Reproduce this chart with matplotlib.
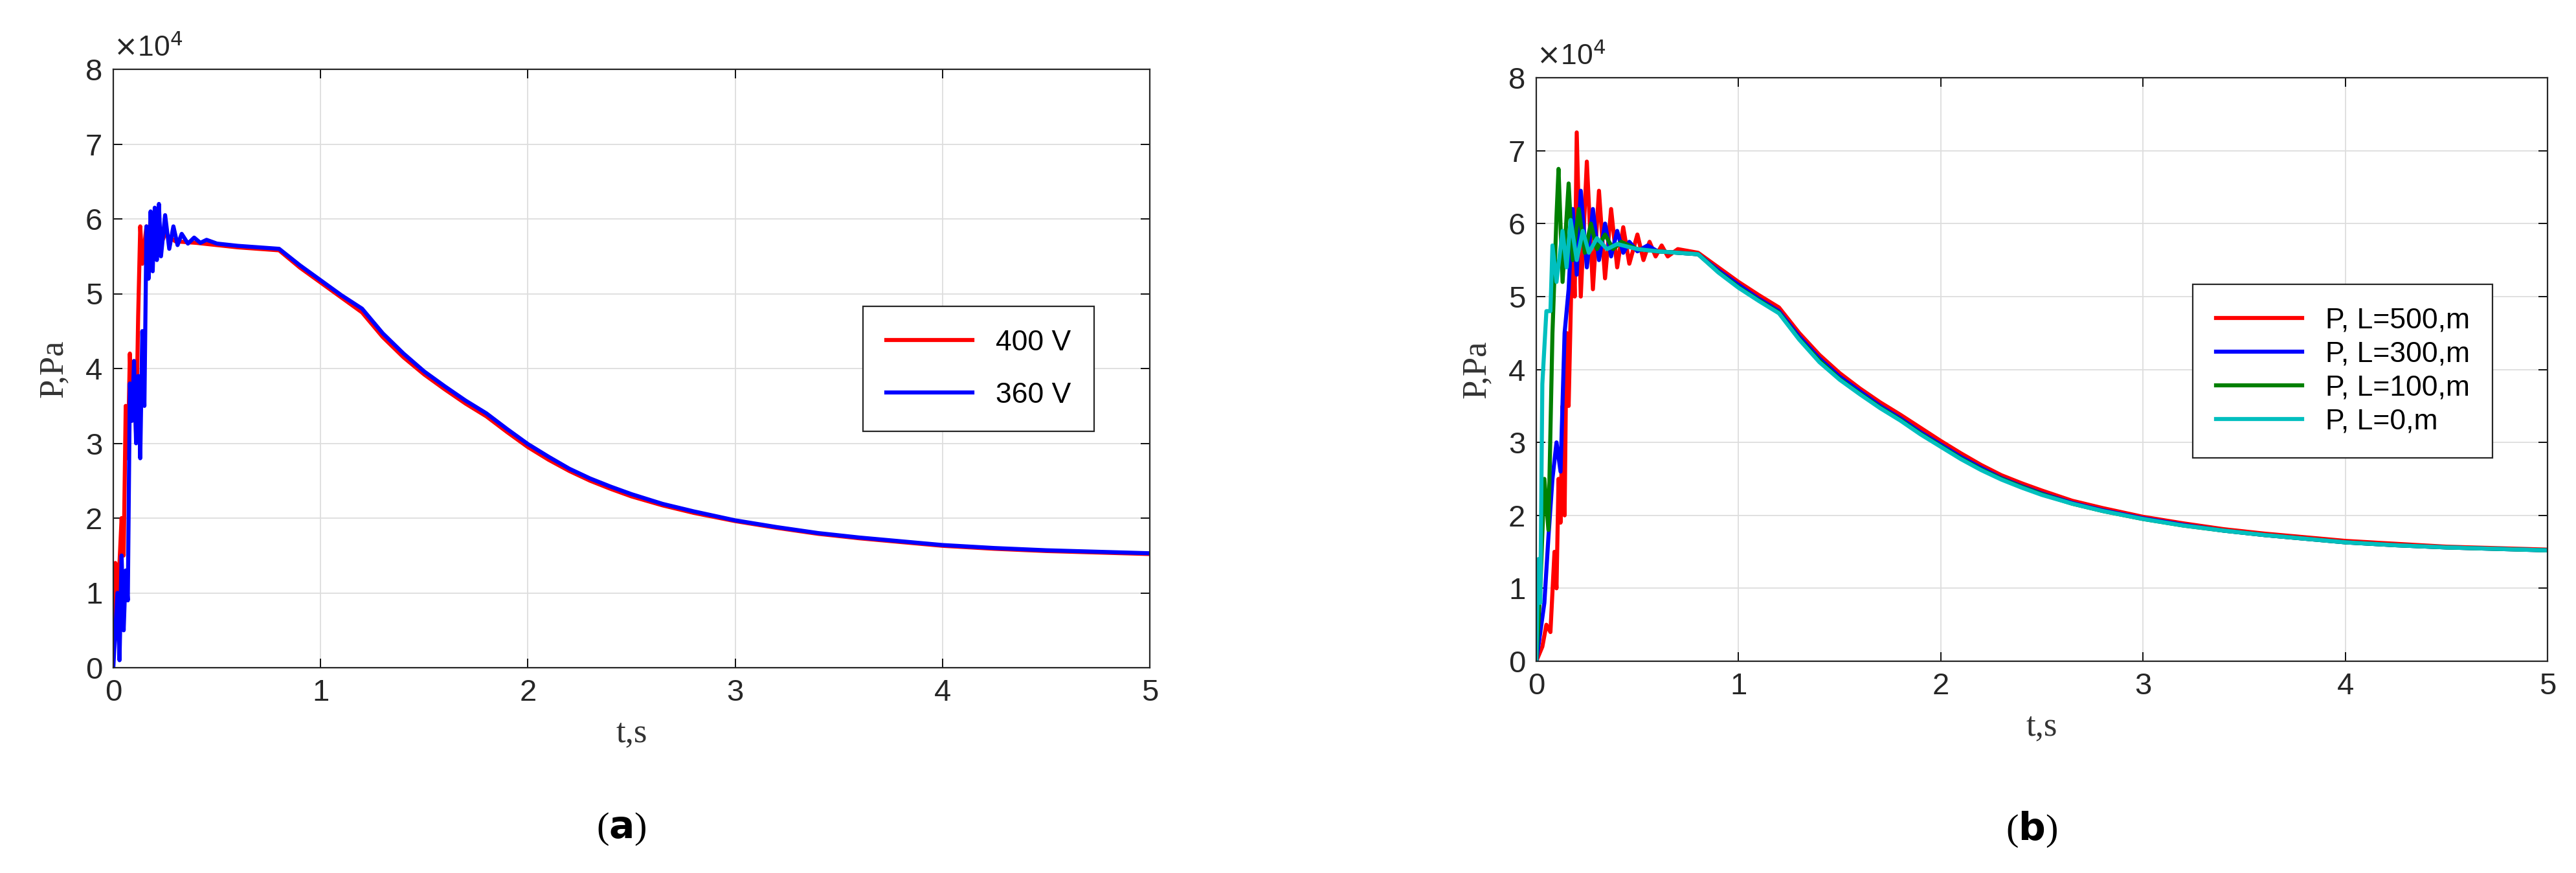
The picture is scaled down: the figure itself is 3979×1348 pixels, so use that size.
import matplotlib
matplotlib.use("Agg")
import matplotlib.pyplot as plt

# pressure in units of 1e4 Pa, time in s
tail_t = [0.8, 0.9, 1.0, 1.1, 1.2, 1.3, 1.4, 1.5, 1.6, 1.7, 1.8, 1.9, 2.0, 2.1, 2.2, 2.3, 2.4, 2.5, 2.65, 2.8,
          3.0, 3.2, 3.4, 3.6, 3.8, 4.0, 4.25, 4.5, 4.75, 5.0]

# panel (a)
t_a_400 = [0, 0.01, 0.02, 0.04, 0.05, 0.06, 0.07, 0.08, 0.09, 0.1, 0.11, 0.12, 0.13, 0.14, 0.16, 0.18, 0.2, 0.22,
           0.25, 0.3, 0.4, 0.5, 0.6] + tail_t
p_a_400 = [0.5, 1.4, 0.8, 2.0, 1.5, 3.5, 2.8, 4.2, 3.4, 4.1, 3.1, 4.7, 5.9, 5.4, 5.9, 5.6, 6.0, 5.6,
           5.8, 5.7, 5.68, 5.65, 5.62,
           5.58, 5.35, 5.15, 4.95, 4.75, 4.42, 4.15, 3.92, 3.72, 3.53, 3.36, 3.15, 2.95, 2.78, 2.63, 2.5, 2.39,
           2.29, 2.17, 2.07, 1.96, 1.87, 1.79, 1.73, 1.68, 1.63, 1.59, 1.56, 1.54, 1.52]
t_a_360 = [0, 0.02, 0.03, 0.04, 0.05, 0.06, 0.07, 0.08, 0.09, 0.1, 0.11, 0.12, 0.13, 0.14, 0.15, 0.16, 0.17, 0.18,
           0.19, 0.2, 0.21, 0.22, 0.23, 0.25, 0.27, 0.29, 0.31, 0.33, 0.36, 0.39, 0.42, 0.45, 0.5, 0.6] + tail_t
p_a_360 = [0, 1.0, 0.1, 1.5, 0.5, 1.3, 0.9, 3.8, 3.3, 4.1, 3.0, 3.9, 2.8, 4.5, 3.5, 5.9, 5.2, 6.1,
           5.3, 6.15, 5.45, 6.2, 5.5, 6.05, 5.6, 5.9, 5.65, 5.8, 5.67, 5.75, 5.68, 5.72, 5.67, 5.64,
           5.6, 5.38, 5.18, 4.98, 4.8, 4.47, 4.2, 3.96, 3.76, 3.57, 3.4, 3.19, 2.99, 2.82, 2.66, 2.53, 2.42,
           2.32, 2.19, 2.09, 1.97, 1.88, 1.8, 1.74, 1.69, 1.64, 1.6, 1.57, 1.55, 1.53]

# panel (b)
t_b_500 = [0, 0.03, 0.05, 0.07, 0.09, 0.1, 0.11, 0.12, 0.13, 0.14, 0.15, 0.16, 0.18, 0.19, 0.2, 0.22, 0.25, 0.28,
           0.31, 0.34, 0.37, 0.4, 0.43, 0.46, 0.5, 0.53, 0.56, 0.59, 0.62, 0.65, 0.7] + tail_t
p_b_500 = [0, 0.2, 0.5, 0.4, 1.5, 1.0, 2.5, 1.9, 3.5, 2.0, 4.5, 3.5, 6.0, 5.0, 7.25, 5.0, 6.85, 5.1,
           6.45, 5.25, 6.2, 5.4, 5.95, 5.45, 5.85, 5.5, 5.75, 5.55, 5.7, 5.55, 5.65,
           5.6, 5.4, 5.2, 5.02, 4.85, 4.5, 4.2, 3.95, 3.74, 3.55, 3.38, 3.2, 3.02, 2.85, 2.69, 2.55, 2.44,
           2.34, 2.2, 2.1, 1.98, 1.89, 1.81, 1.75, 1.7, 1.65, 1.61, 1.57, 1.55, 1.53]
t_b_300 = [0, 0.04, 0.06, 0.08, 0.1, 0.12, 0.14, 0.16, 0.18, 0.2, 0.22, 0.25, 0.28, 0.31, 0.34, 0.37, 0.4, 0.43,
           0.46, 0.5, 0.55, 0.6] + tail_t
p_b_300 = [0, 0.8, 1.7, 2.5, 3.0, 2.6, 4.5, 5.1, 6.2, 5.3, 6.45, 5.4, 6.2, 5.5, 6.0, 5.55, 5.9, 5.6,
           5.75, 5.62, 5.7, 5.62,
           5.58, 5.36, 5.16, 4.97, 4.8, 4.45, 4.15, 3.9, 3.7, 3.5, 3.33, 3.14, 2.97, 2.8, 2.65, 2.51, 2.4,
           2.3, 2.17, 2.07, 1.96, 1.87, 1.79, 1.73, 1.68, 1.63, 1.59, 1.56, 1.54, 1.52]
t_b_100 = [0, 0.02, 0.04, 0.06, 0.08, 0.1, 0.11, 0.13, 0.16, 0.18, 0.21, 0.24, 0.27, 0.3, 0.34, 0.38, 0.42,
           0.5, 0.6] + tail_t
p_b_100 = [0, 1.0, 2.5, 1.8, 4.5, 6.1, 6.75, 5.2, 6.55, 5.5, 6.2, 5.6, 6.0, 5.65, 5.85, 5.65, 5.75, 5.65, 5.62,
           5.58, 5.34, 5.13, 4.95, 4.78, 4.42, 4.12, 3.87, 3.67, 3.48, 3.31, 3.12, 2.95, 2.78, 2.63, 2.5, 2.39,
           2.29, 2.16, 2.06, 1.95, 1.86, 1.79, 1.73, 1.68, 1.63, 1.59, 1.56, 1.54, 1.52]
t_b_0 = [0, 0.01, 0.02, 0.03, 0.05, 0.07, 0.08, 0.1, 0.13, 0.15, 0.17, 0.2, 0.23, 0.26, 0.3, 0.35, 0.4, 0.5,
         0.6] + tail_t
p_b_0 = [0, 1.4, 0.8, 3.8, 4.8, 4.8, 5.7, 5.2, 5.9, 5.4, 6.05, 5.5, 5.9, 5.6, 5.8, 5.65, 5.72, 5.65, 5.62,
         5.58, 5.33, 5.12, 4.94, 4.77, 4.41, 4.1, 3.86, 3.66, 3.47, 3.3, 3.11, 2.94, 2.77, 2.62, 2.49, 2.38,
         2.28, 2.16, 2.06, 1.95, 1.86, 1.79, 1.73, 1.68, 1.63, 1.59, 1.56, 1.54, 1.52]

W, H = 3980, 1348
fig = plt.figure(figsize=(W / 100, H / 100), dpi=100)
tick_font = {"family": "Liberation Sans", "size": 34}


def panel(rect, series, leg_box, tag):
    ax = fig.add_axes(rect)
    for t, p, c, lab in series:
        ax.plot(t, p, color=c, lw=4.5, label=lab)
    ax.set_xlim(0, 5); ax.set_ylim(0, 8)
    ax.set_xticks(range(6)); ax.set_yticks(range(9))
    ax.grid(True, color="#dddddd", lw=1.3)
    ax.tick_params(direction="in", length=10, top=True, right=True, width=1.3, pad=12)
    for lbl in ax.get_xticklabels() + ax.get_yticklabels():
        lbl.set_fontproperties(tick_font); lbl.set_color("#262626")
    for s in ax.spines.values():
        s.set_color("#262626"); s.set_linewidth(1.6)
    ax.text(0.0, 1.012, r"$\times$10$^4$", transform=ax.transAxes, fontsize=32, color="#262626",
            family="Liberation Sans", va="bottom")
    ax.set_xlabel("t,s", family="Liberation Serif", fontsize=38, color="#333333", labelpad=12)
    ax.set_ylabel("P,Pa", family="Liberation Serif", fontsize=38, color="#333333", labelpad=18)
    leg = ax.legend(loc="upper right", bbox_to_anchor=leg_box, prop={"family": "Liberation Sans", "size": 32},
                    fancybox=False, edgecolor="#262626", framealpha=1, handlelength=3.0, borderpad=0.8,
                    labelspacing=0.25 if len(series) > 2 else 0.9)
    leg.get_frame().set_linewidth(1.6)
    fig.text(rect[0] + rect[2] * 0.49, 0.05, tag, ha="center", va="center", family="Liberation Serif",
             fontsize=42)
    return ax


panel([175 / W, 1 - 1031 / H, 1601 / W, 924 / H],
      [(t_a_400, p_a_400, "#ff0000", "400 V"), (t_a_360, p_a_360, "#0000ff", "360 V")],
      (0.96, 0.628), r"($\mathbf{a}$)")
panel([2373 / W, 1 - 1021 / H, 1562 / W, 901 / H],
      [(t_b_500, p_b_500, "#ff0000", "P, L=500,m"), (t_b_300, p_b_300, "#0000ff", "P, L=300,m"),
       (t_b_100, p_b_100, "#008000", "P, L=100,m"), (t_b_0, p_b_0, "#00bfbf", "P, L=0,m")],
      (0.96, 0.671), r"($\mathbf{b}$)")

fig.savefig("out.png", dpi=100)
